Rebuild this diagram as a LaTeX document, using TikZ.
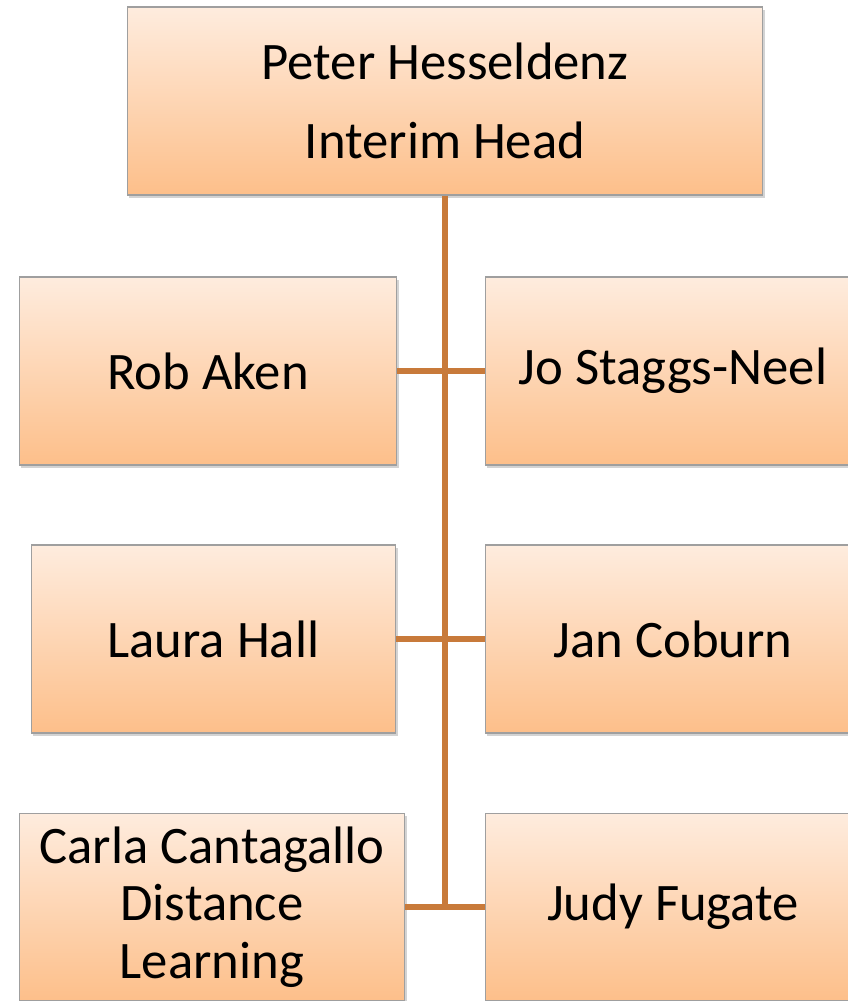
\documentclass[tikz,border=0pt]{standalone}
\usepackage{fontspec}
\setmainfont{Carlito}
\definecolor{orgtop}{RGB}{254,236,222}
\definecolor{orgbot}{RGB}{253,191,138}
\definecolor{orgline}{RGB}{200,122,58}
\usetikzlibrary{positioning,shadows}

\begin{document}
\begin{tikzpicture}[
  x=0.02cm, y=-0.02cm,
  every node/.style={font=\fontsize{30}{32.8}\selectfont, align=center, text=black, inner sep=2pt},
  orgbox/.style={draw=gray!75, line width=0.6pt, top color=orgtop, bottom color=orgbot,
                 minimum height=3.76cm, drop shadow={shadow xshift=1.2pt, shadow yshift=-1.5pt, opacity=0.35}},
  link/.style={draw=orgline, line width=3pt},
]
\useasboundingbox (0,0) rectangle (848,1001);
\clip (0,0) rectangle (848,1001);

% Head
\node[orgbox, minimum width=12.72cm] (head) at (445,101) {Peter Hesseldenz\\[12pt]Interim Head};

% Row 1
\node[orgbox, minimum width=7.56cm] (rob) at (208,371) {Rob Aken};
\node[orgbox, minimum width=7.52cm] (jo) at (673,371) {Jo Staggs-Neel};

% Row 2
\node[orgbox, minimum width=7.30cm] (laura) at (213.5,639) {Laura Hall};
\node[orgbox, minimum width=7.52cm] (jan) at (673,639) {Jan Coburn};

% Row 3
\node[orgbox, minimum width=7.72cm] (carla) at (212,907) {Carla Cantagallo\\Distance\\Learning};
\node[orgbox, minimum width=7.52cm] (judy) at (673,907) {Judy Fugate};

% Connectors
\draw[link] (head.south) -- (head.south |- carla.east);
\draw[link] (rob.east) -- (jo.west);
\draw[link] (laura.east) -- (jan.west);
\draw[link] (carla.east) -- (judy.west);

\end{tikzpicture}
\end{document}
